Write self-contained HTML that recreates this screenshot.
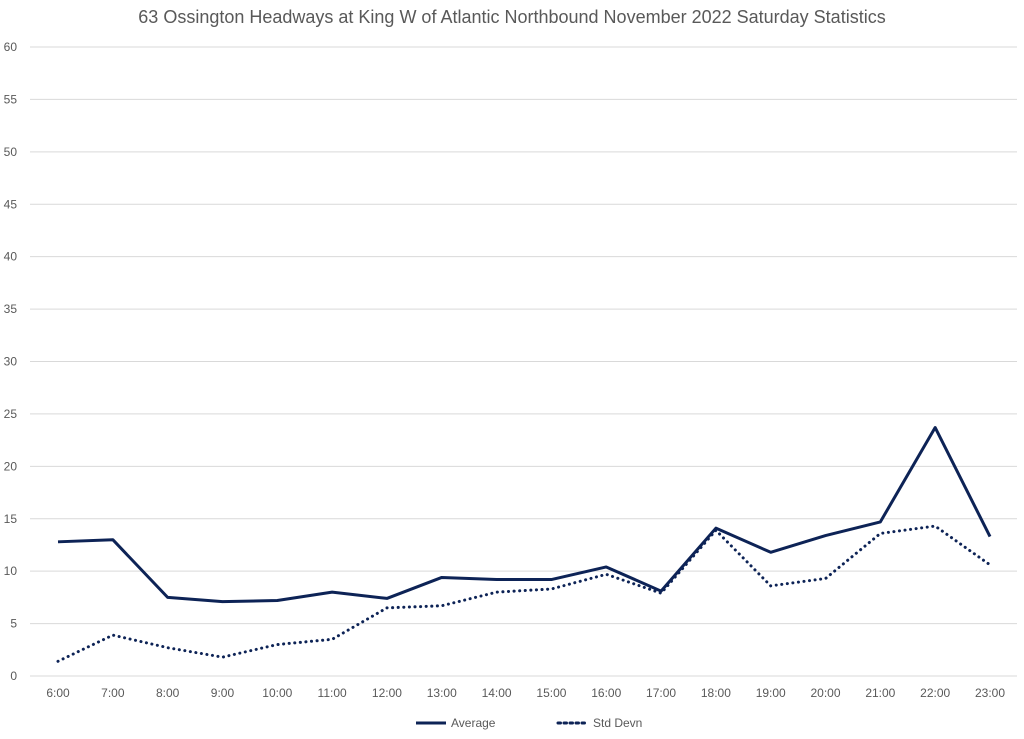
<!DOCTYPE html>
<html><head><meta charset="utf-8"><style>
body{margin:0;background:#fff;font-family:"Liberation Sans",sans-serif;}
</style></head><body>
<svg id="chart" width="1024" height="734" xmlns="http://www.w3.org/2000/svg">
<rect width="1024" height="734" fill="#fff"/>
<text x="512" y="23" text-anchor="middle" font-size="18" fill="#595959">63 Ossington Headways at King W of Atlantic Northbound November 2022 Saturday Statistics</text>
<g id="grid"></g><g id="ylab"></g><g id="xlab"></g><g id="series"></g>
<g>
<line x1="416" y1="723" x2="446" y2="723" stroke="#0d2356" stroke-width="3"/>
<text x="451" y="727" font-size="12" fill="#595959">Average</text>
<line x1="558" y1="723" x2="588" y2="723" stroke="#0d2356" stroke-width="3" stroke-dasharray="2.5 3.5" stroke-linecap="round"/>
<text x="593" y="727" font-size="12" fill="#595959">Std Devn</text>
</g>
</svg>
<script>
const categories=["6:00","7:00","8:00","9:00","10:00","11:00","12:00","13:00","14:00","15:00","16:00","17:00","18:00","19:00","20:00","21:00","22:00","23:00"];
const averageValues=[12.8,13.0,7.5,7.1,7.2,8.0,7.4,9.4,9.2,9.2,10.4,8.1,14.1,11.8,13.4,14.7,23.7,13.3];
const stdValues=[1.4,3.9,2.7,1.8,3.0,3.5,6.5,6.7,8.0,8.3,9.7,7.9,13.9,8.6,9.3,13.6,14.3,10.6];
const yTicks=[0,5,10,15,20,25,30,35,40,45,50,55,60];
const NS="http://www.w3.org/2000/svg";
const y=v=>676-v*(629/60);
const x=i=>58+i*(932/17);
function mk(t,a,p){const e=document.createElementNS(NS,t);for(const k in a)e.setAttribute(k,a[k]);document.getElementById(p).appendChild(e);return e;}
yTicks.forEach(v=>{
 const l=mk('line',{x1:30,x2:1017,y1:y(v),y2:y(v),stroke:'#d9d9d9','stroke-width':1},'grid');
 
 
 const t=mk('text',{x:17,y:y(v)+4,'text-anchor':'end','font-size':12,fill:'#595959'},'ylab');
 
 
 t.textContent=v;
});
categories.forEach((c,i)=>{
 const t=mk('text',{x:x(i),y:697,'text-anchor':'middle','font-size':12,fill:'#595959'},'xlab');
 
 
 t.textContent=c;
});
const pts=a=>a.map((v,i)=>x(i)+','+y(v)).join(' ');
const s=mk('polyline',{points:pts(stdValues),fill:'none',stroke:'#0d2356','stroke-width':3,'stroke-dasharray':'0.1 5.5','stroke-linecap':'round'},'series');


const a=mk('polyline',{points:pts(averageValues),fill:'none',stroke:'#0d2356','stroke-width':3,'stroke-linejoin':'round'},'series');


</script>
</body></html>
